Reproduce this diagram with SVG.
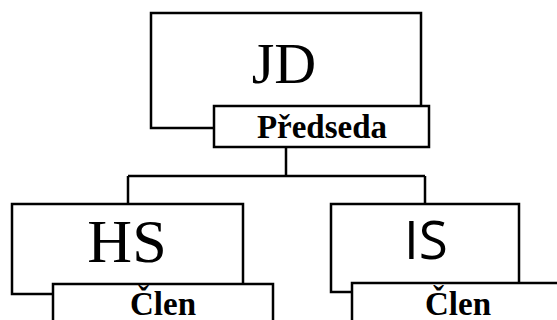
<svg xmlns="http://www.w3.org/2000/svg" width="557" height="320" viewBox="0 0 557 320">
<style>
.box{fill:#fff;stroke:#000;stroke-width:2.5}
.serif{font-family:"Liberation Serif","Times New Roman","DejaVu Serif",serif;font-weight:400;font-style:normal;text-anchor:middle;fill:#000}
.lbl{font-family:"Liberation Serif","Times New Roman","DejaVu Serif",serif;font-weight:bold;font-size:33px;text-anchor:middle;fill:#000}
</style>
<rect width="557" height="320" fill="#fff"/>
<g id="connectors" fill="none" stroke="#000" stroke-width="2.5">
<path d="M286 147 V176 M128 176 H425 M128 176 V204 M425 176 V204"/>
</g>
<g id="jd">
<rect class="box" x="151" y="13" width="270" height="115"/>
<text class="serif" x="284" y="83" style="font-size:58px">JD</text>
<rect class="box" x="214" y="106" width="215" height="41"/>
<text class="lbl" x="322" y="138">Předseda</text>
</g>
<g id="hs">
<rect class="box" x="12" y="204" width="231" height="90"/>
<text class="serif" x="127" y="262" style="font-size:62px">HS</text>
<rect class="box" x="53" y="284" width="220" height="50"/>
<text class="lbl" x="163" y="315">Člen</text>
</g>
<g id="is">
<rect class="box" x="331" y="204" width="188" height="88"/>
<text x="426" y="259" font-family="'Open Sans', 'Liberation Sans', sans-serif" font-size="53" text-anchor="middle" fill="#000">IS</text>
<rect class="box" x="352" y="283" width="210" height="50"/>
<text class="lbl" x="458" y="315">Člen</text>
</g>
</svg>
